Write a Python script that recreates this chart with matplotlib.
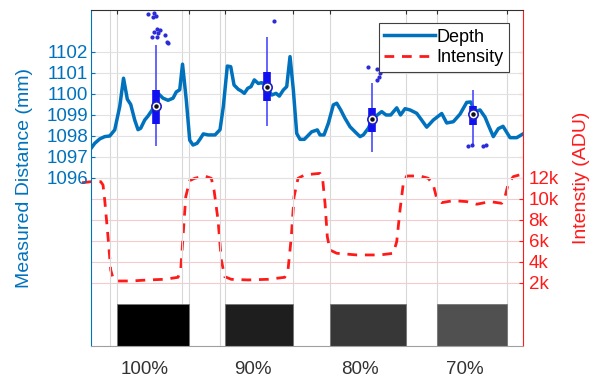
import matplotlib
matplotlib.use("Agg")
import matplotlib.pyplot as plt

plt.rcParams['font.family'] = ['Liberation Sans', 'DejaVu Sans']

# sweep position (samples along the scan)
depth_x = [0, 3.7, 8.7, 13.7, 18.7, 23.7, 28.7, 32.5, 36.3, 39.7, 43.7, 47, 49.7, 53.7, 57,
           62, 65, 67, 72, 77, 82, 85.3, 88.7, 91.5, 95.3, 98.7, 102, 106, 109, 112.3, 117.3,
           124, 129, 132.3, 136.3, 139.7, 143, 147.3, 150, 153.3, 156.7, 160, 163.3, 167.3,
           170.7, 175.7, 180.7, 185, 188.3, 192.3, 195.7, 199, 202.3, 205.7, 209, 213.3, 220.7,
           226.3, 229, 233, 237.3, 242.3, 245.7, 249.7, 254, 259, 264, 269, 272.3, 277.3,
           281.3, 286.3, 290.7, 295, 299.7, 305.7, 309.5, 314, 319, 325.7, 330, 335.7, 342.3,
           350.7, 355.7, 362.3, 369, 375.7, 379.7, 384, 389, 394, 397.3, 402.3, 407.3, 412,
           419, 425.7, 432]
depth = [1097.41, 1097.65, 1097.86, 1097.97, 1098.0, 1098.29, 1099.4, 1100.75, 1099.75,
         1099.5, 1098.76, 1098.3, 1098.37, 1098.76, 1098.95, 1099.3, 1099.95, 1100.03, 1099.8,
         1099.7, 1099.8, 1100.1, 1100.2, 1101.42, 1099.7, 1097.8, 1097.57, 1097.65, 1097.85,
         1098.1, 1098.05, 1098.05, 1098.3, 1099.4, 1101.33, 1101.3, 1100.43, 1100.22,
         1100.15, 1100.03, 1100.27, 1100.35, 1100.67, 1100.5, 1100.54, 1100.35, 1099.95,
         1100.03, 1099.9, 1100.19, 1100.35, 1101.78, 1100.2, 1098.12, 1097.84, 1097.84,
         1098.2, 1098.29, 1098.05, 1098.05, 1098.6, 1099.48, 1099.56, 1099.24, 1098.84,
         1098.44, 1098.2, 1097.97, 1098.05, 1098.37, 1098.76, 1099.0, 1099.16, 1099.0,
         1099.0, 1099.34, 1099.0, 1099.3, 1099.24, 1099.08, 1098.8, 1098.42, 1098.76,
         1099.07, 1098.62, 1098.68, 1099.04, 1099.6, 1099.62, 1099.16, 1099.24, 1098.9,
         1098.52, 1097.97, 1098.35, 1098.46, 1097.92, 1097.92, 1098.1]

inten_x = [-9, 0.3, 9.7, 12, 13.7, 17, 19.7, 22, 27, 40.3, 57, 73.7, 87, 89.7, 92, 94.7,
           98.7, 103.7, 113.7, 120.3, 123, 127, 130.3, 133.7, 140.3, 157, 177, 193.7, 197,
           200.3, 203, 207, 213.7, 222.3, 229, 231.7, 234, 236.3, 239, 245.7, 265.7, 289,
           302.3, 305.7, 309, 312.3, 315.7, 329, 337.3, 342.3, 345.7, 350.7, 362.3, 375.7,
           385.7, 399, 410.7, 414, 417.3, 422.3, 428.3]
intensity = [11550, 11650, 11650, 11330, 9900, 6400, 3240, 2440, 2190, 2190, 2290, 2350,
             2540, 3240, 6400, 10200, 11750, 11970, 12190, 11970, 10860, 8000, 4190, 2600,
             2350, 2290, 2350, 2540, 3240, 6400, 10200, 11970, 12290, 12380, 12440, 11810,
             9590, 6400, 5140, 4830, 4670, 4670, 4830, 5940, 8950, 11500, 12190, 12190, 11970,
             11330, 10060, 9650, 9840, 9750, 9500, 9750, 9590, 10200, 11500, 12130, 12290]

# reflectance targets
patch_start = [26, 134, 239, 346]
patch_end = [98, 202, 315, 416]
patch_color = ['#000000', '#1e1e1e', '#373737', '#505050']
patch_labels = ['100%', '90%', '80%', '70%']
label_x = [54, 162, 269, 374]

# box plots of depth over each target
box_x = [65, 176, 281, 382.3]
box_q1 = [1098.57, 1099.67, 1098.2, 1098.52]
box_q3 = [1100.2, 1101.06, 1099.32, 1099.43]
box_med = [1099.43, 1100.35, 1098.81, 1099.05]
whisk_lo = [1097.5, 1098.48, 1097.25, 1097.57]
whisk_hi = [1102.33, 1102.7, 1100.54, 1100.19]
out_x = [57.3, 63, 65, 62.3, 65.7, 69, 63, 67.3, 74, 60.7, 65.7, 75.7, 77.3,
         183,
         277.3, 286.3, 289, 287.7, 286.3,
         377.3, 380.7, 392.3, 395]
out_y = [1103.81, 1103.87, 1103.71, 1103.65, 1103.08, 1103.05, 1102.94, 1102.89, 1102.81,
         1102.7, 1102.7, 1102.49, 1102.45,
         1103.49,
         1101.3, 1101.17, 1101.0, 1100.83, 1100.67,
         1097.5, 1097.57, 1097.52, 1097.57]

left_ticks = [1096, 1097, 1098, 1099, 1100, 1101, 1102]
right_ticks = [2000, 4000, 6000, 8000, 10000, 12000, 14000, 16000, 18000, 20000, 22000, 24000]
right_labels = ['2k', '4k', '6k', '8k', '10k', '12k', '', '', '', '', '', '']
extra_grid_x = [19, 91, 129]

blue = '#0072BD'
red = '#ff1a1a'

fig = plt.figure(figsize=(6, 3.81), dpi=100)
ax = fig.add_axes([0.1517, 0.0919, 0.72, 0.8819])
ax2 = ax.twinx()

ax.set_xlim(0, 432)
ax.set_ylim(1088, 1104)
ax2.set_ylim(-4000, 28000)

# grids
for xv in patch_start + patch_end + extra_grid_x:
    ax.axvline(xv, color='#d8d8d8', lw=0.8, zorder=0)
for yv in left_ticks:
    ax.axhline(yv, color='#e2e2e2', lw=0.8, zorder=0)
for yv in right_ticks[:6]:
    ax2.axhline(yv, color='#f6caca', lw=0.8, zorder=0)

# target patches
for s, e, c in zip(patch_start, patch_end, patch_color):
    ax.bar((s + e) / 2, 2, width=e - s, bottom=1088, color=c, edgecolor='#777777',
           linewidth=0.6, zorder=2)

ln1, = ax.plot(depth_x, depth, color=blue, lw=2.5, zorder=3, label='Depth')
ln2, = ax2.plot(inten_x, intensity, color=red, lw=2, dashes=(3.5, 2.8), clip_on=False,
                zorder=3, label='Intensity')

# compact box plots
ax.vlines(box_x, whisk_lo, whisk_hi, color='#4a4aff', lw=1.2, zorder=4)
ax.vlines(box_x, box_q1, box_q3, color='#1010f0', lw=5.5, zorder=5)
ax.scatter(box_x, box_med, s=45, facecolor='white', edgecolor='#2020c0', linewidth=1.2,
           zorder=6)
ax.scatter(box_x, box_med, s=5, color='#111111', zorder=7)
ax.scatter(out_x, out_y, s=4, color='#2a2ad8', zorder=4, clip_on=False)

ax.set_zorder(ax2.get_zorder() + 1)
ax.patch.set_visible(False)

# left axis styling
ax.set_yticks(left_ticks)
ax.tick_params(axis='y', colors=blue, direction='in', length=3, labelsize=13.5, pad=2)
ax.set_ylabel('Measured Distance (mm)', color=blue, fontsize=14, labelpad=10)
ax.spines['left'].set_color(blue)
ax.spines['right'].set_visible(False)
ax.spines['top'].set_color('#303030')
ax.spines['bottom'].set_color('#a0a0a0')

ax.set_xticks(patch_start + patch_end)
ax.tick_params(axis='x', top=True, bottom=False, labelbottom=False, direction='in',
               length=3, color='#303030')
for lx, lab in zip(label_x, patch_labels):
    ax.text(lx, -0.045, lab, transform=ax.get_xaxis_transform(), ha='center', va='top',
            fontsize=13.5, color='#333333')

# right axis styling
ax2.set_yticks(right_ticks)
ax2.set_yticklabels(right_labels)
ax2.tick_params(axis='y', colors=red, direction='in', length=3, labelsize=13.5, pad=4)
ax2.set_ylabel('Intenstiy (ADU)', color=red, fontsize=14, labelpad=10)
for sp in ['left', 'top', 'bottom']:
    ax2.spines[sp].set_visible(False)
ax2.spines['right'].set_color(red)

leg = ax.legend([ln1, ln2], ['Depth', 'Intensity'], loc='upper right',
                bbox_to_anchor=(0.9676, 0.961), borderaxespad=0, fontsize=13,
                handlelength=2.8, handletextpad=0.1, fancybox=False, framealpha=1,
                borderpad=0.3, labelspacing=0.2)
leg.get_frame().set_edgecolor('#404040')
leg.get_frame().set_linewidth(0.8)

fig.savefig('out.png', dpi=100)
